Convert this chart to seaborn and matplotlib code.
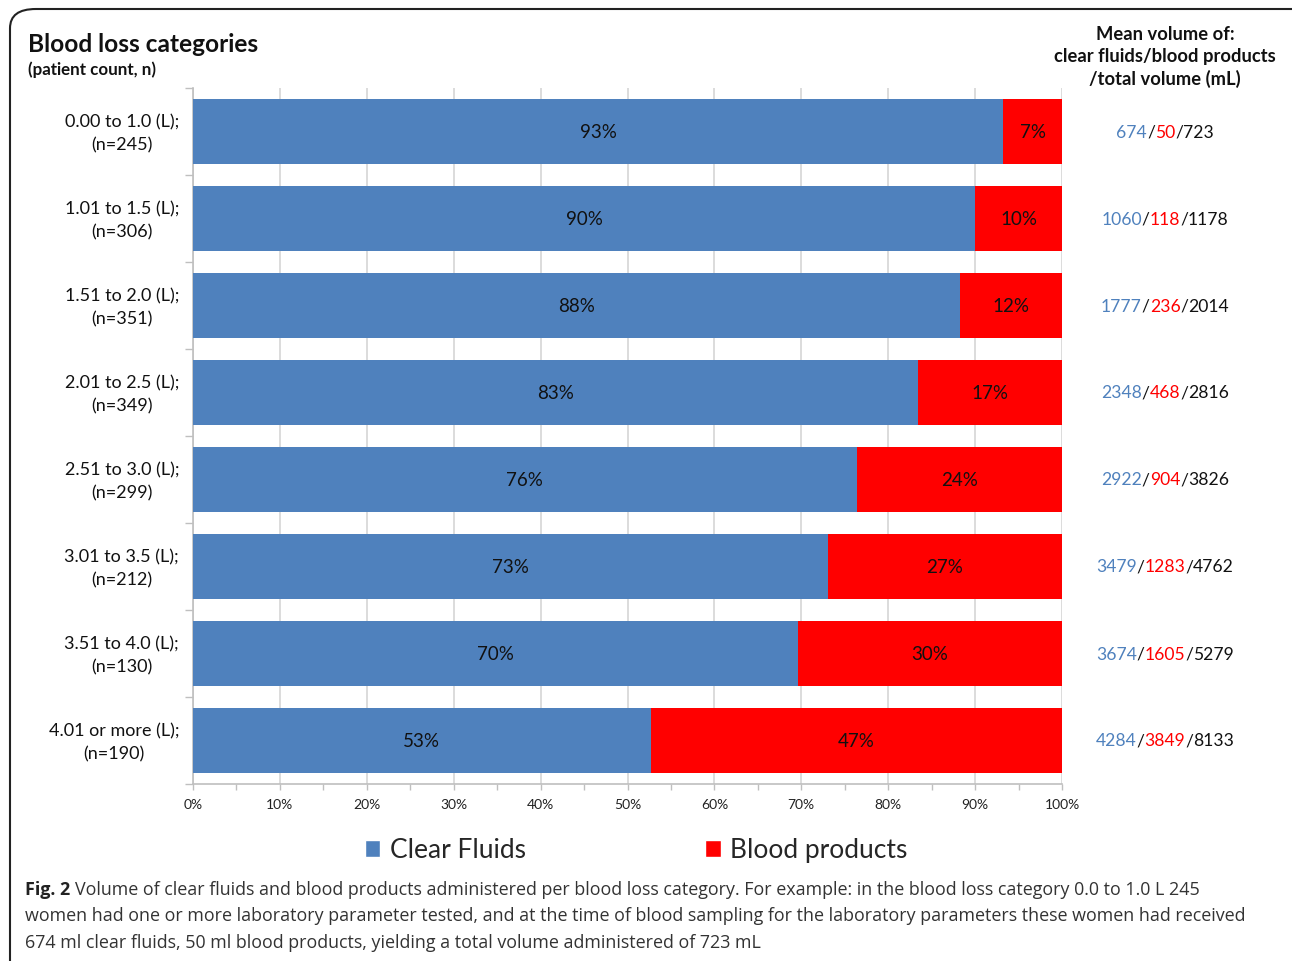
import numpy as np
import pandas as pd
import matplotlib
matplotlib.use("Agg")
import matplotlib.pyplot as plt
import matplotlib.transforms as mtrans
import seaborn as sns
from matplotlib.patches import Patch, FancyBboxPatch
from matplotlib.ticker import MultipleLocator, FixedLocator

# ---------------- data ----------------
categories = ["0.00 to 1.0 (L);\n(n=245)", "1.01 to 1.5 (L);\n(n=306)",
              "1.51 to 2.0 (L);\n(n=351)", "2.01 to 2.5 (L);\n(n=349)",
              "2.51 to 3.0 (L);\n(n=299)", "3.01 to 3.5 (L);\n(n=212)",
              "3.51 to 4.0 (L);\n(n=130)", "4.01 or more (L);\n(n=190)"]
clear_ml = [674, 1060, 1777, 2348, 2922, 3479, 3674, 4284]
blood_ml = [50, 118, 236, 468, 904, 1283, 1605, 3849]
total_ml = [723, 1178, 2014, 2816, 3826, 4762, 5279, 8133]
clear_pct = [93, 90, 88, 83, 76, 73, 70, 53]
blood_pct = [7, 10, 12, 17, 24, 27, 30, 47]
xtick_labels = ["0%", "10%", "20%", "30%", "40%", "50%", "60%", "70%", "80%", "90%", "100%"]

BLUE = "#4F81BD"
RED = "#FF0000"
FONT = ["Lato", "DejaVu Sans"]

clear_share = np.array(clear_ml) / np.array(total_ml)
blood_share = 1 - clear_share
df = pd.DataFrame({"cat": categories, "clear": clear_share,
                   "stack": clear_share + blood_share})

sns.set_theme(style="white")
plt.rcParams["font.family"] = FONT

W, H = 1292, 962
fig = plt.figure(figsize=(W / 100, H / 100), dpi=100)
ax = fig.add_axes([193 / W, 1 - 785 / H, (1062 - 193) / W, (785 - 89) / H])

sns.barplot(data=df, x="stack", y="cat", orient="h", color=RED, saturation=1,
            width=0.75, linewidth=0, ax=ax, zorder=3)
sns.barplot(data=df, x="clear", y="cat", orient="h", color=BLUE, saturation=1,
            width=0.75, linewidth=0, ax=ax, zorder=4)

ax.set_xlim(0, 1)
ax.set_ylim(len(categories) - 0.5, -0.5)
ax.set_xlabel("")
ax.set_ylabel("")

# x axis
ax.xaxis.set_minor_locator(MultipleLocator(0.05))
ax.set_xticks(np.linspace(0, 1, len(xtick_labels)))
ax.set_xticklabels(xtick_labels, fontsize=10, color="#222222")
ax.tick_params(axis="x", which="both", direction="out", length=4, width=1,
               color="#BFBFBF", bottom=True, pad=6)
ax.grid(axis="x", which="major", color="#D9D9D9", linewidth=1.3, zorder=0)
ax.set_axisbelow(True)

# y axis
ax.yaxis.set_minor_locator(FixedLocator(np.arange(-0.5, len(categories), 1.0)))
ax.tick_params(axis="y", which="major", length=0, pad=10, labelsize=13,
               labelcolor="#111111")
ax.tick_params(axis="y", which="minor", direction="out", length=6, width=1,
               color="#BFBFBF", left=True)
shift_up = mtrans.ScaledTranslation(0, 0.04, fig.dpi_scale_trans)
for lab in ax.get_yticklabels():
    lab.set_multialignment("center")
    lab.set_linespacing(1.55)
    lab.set_transform(lab.get_transform() + shift_up)

for s in ["top", "right"]:
    ax.spines[s].set_visible(False)
for s in ["left", "bottom"]:
    ax.spines[s].set_color("#BFBFBF")
    ax.spines[s].set_linewidth(1.2)

# percent labels inside bars
for i in range(len(categories)):
    ax.text(clear_share[i] / 2, i, f"{clear_pct[i]}%", ha="center", va="center",
            fontsize=13.5, color="#111111", zorder=6)
    ax.text((clear_share[i] + 1) / 2, i, f"{blood_pct[i]}%", ha="center",
            va="center", fontsize=13.5, color="#111111", zorder=6)

# titles
fig.text(28 / W, 1 - 44 / H, "Blood loss categories", fontsize=17.6,
         fontweight="bold", va="center", ha="left", color="#111111")
fig.text(28 / W, 1 - 70 / H, "(patient count, n)", fontsize=12.2,
         fontweight="bold", va="center", ha="left", color="#111111")
fig.text(1165 / W, 1 - 57 / H,
         "Mean volume of:\nclear fluids/blood products\n/total volume (mL)",
         fontsize=13.2, fontweight="bold", va="center", ha="center",
         multialignment="center", linespacing=1.35, color="#111111")

# multi-colour volume annotations
renderer = fig.canvas.get_renderer()


def width_px(s, **kw):
    t = fig.text(0, 0, s, **kw)
    w = t.get_window_extent(renderer).width
    t.remove()
    return w


vol_kw = dict(fontsize=12.6)
for i in range(len(categories)):
    pieces = [(str(clear_ml[i]), BLUE), ("/", "#111111"), (str(blood_ml[i]), RED),
              ("/", "#111111"), (str(total_ml[i]), "#111111")]
    full = "".join(p for p, _ in pieces)
    total_w = width_px(full, **vol_kw)
    ydisp = ax.transData.transform((0, i))[1]
    x = 1165 - total_w / 2
    for s, c in pieces:
        fig.text(x / W, ydisp / H, s, color=c, va="center", ha="left", **vol_kw)
        x += width_px(s, **vol_kw)

# legend
handles = [Patch(facecolor=BLUE, label="Clear Fluids"),
           Patch(facecolor=RED, label="Blood products")]
fig.legend(handles=handles, loc="center", bbox_to_anchor=(636 / W, 1 - 851 / H),
           ncol=2, frameon=False, fontsize=19, handlelength=0.6, handleheight=0.6,
           handletextpad=0.35, columnspacing=6.8)

# caption
cap_lines = [
    "Volume of clear fluids and blood products administered per blood loss category. For example: in the blood loss category 0.0 to 1.0 L 245",
    "women had one or more laboratory parameter tested, and at the time of blood sampling for the laboratory parameters these women had received",
    "674 ml clear fluids, 50 ml blood products, yielding a total volume administered of 723 mL",
]
cap_font = ["Open Sans", "DejaVu Sans"]
base_fs = 14
w1 = width_px("Fig. 2 ", fontsize=base_fs, fontweight="bold", family=cap_font) + \
    width_px(cap_lines[0], fontsize=base_fs, family=cap_font)
w2 = width_px(cap_lines[1], fontsize=base_fs, family=cap_font)
fs = min(base_fs * (1260 - 25) / w1, base_fs * (1252 - 25) / w2)
ys = [890, 916, 943]
bw = width_px("Fig. 2 ", fontsize=fs, fontweight="bold", family=cap_font)
fig.text(25 / W, 1 - ys[0] / H, "Fig. 2 ", fontsize=fs, fontweight="bold",
         family=cap_font, va="center", ha="left", color="#222222")
fig.text((25 + bw) / W, 1 - ys[0] / H, cap_lines[0], fontsize=fs, family=cap_font,
         va="center", ha="left", color="#333333")
for line, y in zip(cap_lines[1:], ys[1:]):
    fig.text(25 / W, 1 - y / H, line, fontsize=fs, family=cap_font, va="center",
             ha="left", color="#333333")

# rounded border
border = FancyBboxPatch((10 / W, -0.02), (1320 - 10) / W, (1 - 10 / H) + 0.02,
                        boxstyle="round,pad=0,rounding_size=0.02",
                        transform=fig.transFigure, fill=False, edgecolor="#222222",
                        linewidth=1.5, clip_on=False)
fig.patches.append(border)

fig.savefig("out.png", dpi=100)
